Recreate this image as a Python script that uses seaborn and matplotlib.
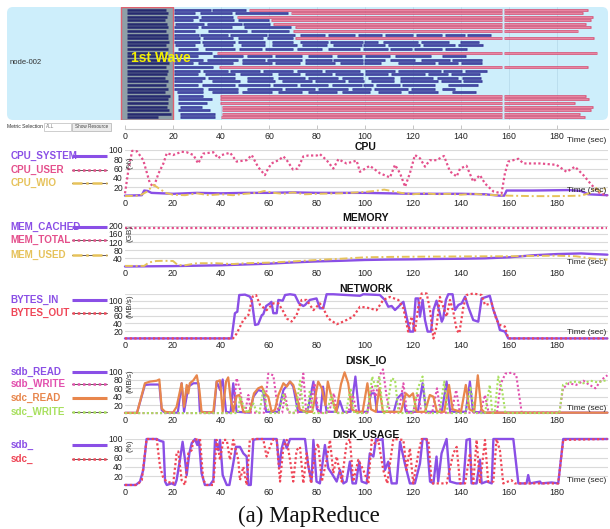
import matplotlib
matplotlib.use("Agg")
import matplotlib.pyplot as plt
import numpy as np
import seaborn as sns
from matplotlib.patches import FancyBboxPatch, Rectangle
from matplotlib.lines import Line2D
from matplotlib.transforms import IdentityTransform

# ---------------------------------------------------------------- data ----
time_ticks = [0, 20, 40, 60, 80, 100, 120, 140, 160, 180]

# task slots of node-002: first wave of map tasks, later map tasks, reduces
first_wave_end = [17, 18, 17.5, 16.5, 17.5, 18, 17, 18, 17.8, 18.5, 17, 18, 16.5,
                  18, 17.5, 18.2, 17, 18, 17.5, 16.8, 18, 17.2, 18, 16.5, 18.75,
                  18, 18, 17.5, 18.5, 19, 13.9]
map_tasks = {
    0: [(20.6, 35.8), (36.4, 50.5)],
    1: [(20.6, 29.2), (31.2, 44.4), (45.8, 68)],
    2: [(20.6, 30.6), (31.7, 45)],
    3: [(20.6, 28.5), (31, 45.5), (47, 60)],
    4: [(20.8, 33), (34, 48.6), (49.3, 60.4)],
    5: [(20.6, 30.6), (31.7, 44.5), (49.5, 69)],
    6: [(20.6, 29.2), (34.5, 51), (52.5, 68.5)],
    7: [(20.6, 30.8), (31.2, 43.1), (43.8, 59), (59.7, 70.8), (72.9, 83.3), (84.7, 95.8),
        (97.2, 106.9), (108.3, 120.1), (121.2, 132.2), (133.3, 141.6), (142.6, 152.3)],
    8: [(20.6, 31.3), (32.6, 45.1), (47.2, 57.6), (59, 70.1)],
    9: [(20.6, 31.3), (32.2, 45.8), (47.2, 58.3), (61.1, 70.1), (72.9, 84.7), (85.4, 99.3),
        (99.7, 105.5), (107.3, 122.2), (123.2, 135), (139.6, 147.6)],
    10: [(20.8, 29.2), (32.6, 45), (48.3, 58.3), (61.1, 71.5), (73.6, 84), (86.8, 98.6),
         (99.3, 108.3), (109.4, 122.9), (124.3, 137.5), (138.6, 149)],
    11: [(22.2, 30.6), (33.3, 45.8), (47.5, 56.9), (58.3, 70.1), (71.5, 81.9), (84.7, 97.9),
         (99.3, 109.7), (110.4, 119.7), (120.5, 132.2), (133.3, 142.3)],
    12: [(20.6, 36.1)],
    13: [(20.6, 30.6), (36.8, 49.3), (50.7, 61.1), (62.5, 73.6), (76.4, 86.1), (88.2, 98.6),
         (100.2, 110.4), (112.5, 127.7), (132.2, 141.9)],
    14: [(20.6, 32.6), (34, 47.2), (48.6, 58.3), (59, 73.6), (75, 86.1), (86.8, 99.3),
         (99.7, 108.3), (110.4, 120.8), (123.3, 135.4), (136.1, 148.9)],
    15: [(20.6, 28.5), (30.6, 45.1), (48.6, 61.1), (62.5, 72.9), (75, 87.5), (89.6, 99.3),
         (99.7, 106.6), (113.6, 129.1), (130.5, 138.9), (140.2, 148.6)],
    16: [(20.6, 36.8)],
    17: [(20.6, 31.3), (32.6, 43.1), (43.8, 56.3), (57.6, 70.1), (71.5, 81.9), (83.3, 97.9),
         (100.2, 112.5), (113.6, 131.6), (132.6, 140.5), (141.6, 150.7)],
    18: [(20.6, 30.6), (33.3, 45.8), (47.9, 61.1), (63.9, 72.9), (75, 86.1), (87.5, 99.3),
         (100.2, 109.4), (110.8, 125), (126.1, 134.7), (135.8, 147.9)],
    19: [(20.6, 33.3), (34.7, 45.8), (50.7, 61.8), (63.9, 75), (76.4, 88.9), (90.3, 99.3),
         (101.4, 112.2), (114.6, 128.2), (130.2, 138.6), (140.5, 148.3)],
    20: [(20.6, 31.9), (36.1, 47.9), (50.7, 62.5), (65.3, 77.8), (79.2, 91.7), (93.1, 99.7),
         (102.5, 112.2), (114.6, 130.5), (131.6, 140), (140.7, 148.6)],
    21: [(20.6, 30.6), (32.2, 45.8), (47.2, 60.4), (61.8, 71.5), (72.9, 84.7), (86.1, 98.6),
         (99.3, 103.4), (104.4, 114.6), (115.5, 129.1), (134.4, 146.9)],
    22: [(20.6, 32.6), (34.7, 47.2), (50.7, 65.3), (66.7, 79.2), (80.6, 93.1), (94.4, 102.7),
         (103.9, 118), (119.1, 129.1), (131.9, 137.7)],
    23: [(21.5, 32.6), (36.1, 47.2), (48.6, 61.1), (63.9, 73.6), (76.4, 88.2), (90.3, 102),
         (105.5, 115.2), (118, 130.5), (136.1, 146.1)],
    24: [(22.2, 32.6)],
    25: [(22.2, 36.1)],
    26: [(22.2, 34)],
    27: [(22.9, 31.9)],
    28: [(22.2, 35.4)],
    29: [(22.9, 37.5)],
    30: [(22.9, 37.5)],
}
reduce_row = [0, 1, 2, 3, 4, 5, 6, 8, 12, 16, 24, 25, 26, 27, 28, 29, 30]
reduce_start = [51.5, 69, 46.5, 61, 61.8, 70.8, 70, 70.8, 38.2, 39.2,
                39.6, 39.6, 39.6, 40.3, 40.3, 40.3, 39.9]
reduce_end = [193, 190.7, 194.8, 194, 192, 194, 188.9, 195.4, 196.8, 193,
              191.9, 193.3, 187.5, 194.8, 194, 189.6, 191.7]
shuffle_end, reduce_phase_start = 157.2, 157.8

# CPU (%)
cpu_system = [(0, 2), (7, 3), (8, 13), (9.5, 12), (11, 8), (20, 6), (30, 8), (40, 7), (50, 8),
              (60, 8), (70, 9), (80, 8), (90, 8), (100, 8), (110, 7), (120, 6), (130, 6),
              (140, 6), (150, 5), (156, 2), (158, 2), (159, 13), (170, 13), (185, 14),
              (190, 12), (193, 5), (201, 3)]
cpu_user = [(0, 7), (1.5, 60), (3, 98), (5, 97), (7.6, 78), (10.4, 28), (12, 21), (14, 50),
            (16, 71), (17.4, 93), (20, 89), (23.6, 96), (25.7, 95), (28.5, 89), (30.5, 71),
            (32.6, 92), (36.8, 95), (38.9, 82), (40.3, 89), (43.8, 94), (46.5, 75), (50.7, 78),
            (52.8, 89), (55.5, 63), (58.3, 46), (59, 54), (61, 71), (64, 78), (66, 86),
            (67.4, 78), (70, 58), (72, 60), (74.3, 86), (76.4, 88), (79.9, 88), (81.2, 91),
            (84, 78), (86.8, 60), (88.9, 80), (92.3, 71), (96.5, 77), (97.9, 53), (102, 66),
            (106.2, 50), (110.4, 41), (112.5, 68), (114.6, 50), (116.7, 21), (118.7, 50),
            (120.8, 89), (122.9, 82), (125, 64), (127, 78), (129.8, 78), (132.9, 87),
            (135.4, 54), (138.2, 43), (139.6, 60), (142.3, 66), (145.1, 32), (147.9, 46),
            (150, 28), (153.5, 11), (156.9, 7), (158.3, 50), (159.7, 75), (163.9, 81),
            (166, 71), (172.9, 71), (179.8, 68), (184, 53), (187.5, 64), (191, 46),
            (194.4, 25), (197.9, 7), (201, 2)]
cpu_wio = [(0, 1), (6, 2), (9, 10), (12, 25), (14, 18), (17, 8), (20, 4), (25, 3), (30, 7),
           (35, 3), (40, 5), (45, 3), (50, 6), (55, 8), (58, 12), (62, 8), (66, 6), (70, 9),
           (75, 5), (80, 6), (90, 7), (100, 10), (104, 12), (108, 15), (111, 12), (115, 8),
           (120, 5), (125, 7), (130, 5), (135, 6), (140, 4), (145, 6), (150, 4), (155, 3),
           (160, 2), (170, 1), (180, 1), (190, 2), (194, 8), (196, 20), (198, 10), (201, 22)]

# MEMORY (GB)
mem_cached = [(0, 0), (10, 1), (20, 2), (30, 4), (40, 6), (50, 10), (60, 14), (70, 20),
              (80, 25), (90, 28), (100, 32), (110, 34), (120, 35), (130, 37), (140, 38),
              (150, 40), (160, 45), (170, 55), (180, 61), (190, 64), (195, 61), (201, 58)]
mem_total = [(0, 189), (201, 189)]
mem_used = [(0, 3), (8, 3), (10, 20), (13, 27), (16, 28), (20, 27), (22, 7), (25, 6),
            (30, 16), (38, 16), (45, 12), (50, 16), (60, 19), (70, 25), (80, 32), (90, 38),
            (100, 45), (110, 47), (120, 48), (135, 49), (150, 50), (160, 50), (170, 52),
            (180, 53), (188, 50), (194, 40), (201, 33)]

# NETWORK (MB/s)
bytes_in = [(0, 0.5), (44.4, 0.5), (45.8, 67), (46.8, 71), (47.6, 115), (50, 116), (52, 111),
            (52.8, 102), (54.2, 36), (55.5, 38), (57, 62), (57.6, 64), (58.8, 86), (60.4, 93),
            (61, 97), (61.8, 67), (63.2, 67), (63.9, 102), (65.7, 100), (66.7, 115),
            (68.75, 117), (70.8, 115), (72.5, 93), (74.3, 86), (75, 88.6), (77, 102),
            (79.8, 106), (81.2, 80), (82.6, 80), (84, 117), (86.8, 117), (97.9, 113),
            (99.3, 117), (106.2, 115), (108.3, 102), (109.7, 84), (111.1, 86), (112.5, 75.5),
            (113.9, 84), (115.3, 93), (116, 97), (117.3, 58), (118.7, 18.5), (120.1, 18.5),
            (121.1, 106), (122.2, 106), (122.9, 58), (124, 102), (125, 49), (126.1, 18.5),
            (127.5, 18.5), (128.5, 75.5), (129.8, 100), (131, 71), (132, 44.6), (132.6, 53.5),
            (133.7, 102), (134.7, 117), (136.5, 117), (137.5, 75.5), (138.9, 88.6),
            (140.3, 93), (141.7, 110.6), (143, 84), (145.1, 49), (147.2, 44.6), (148.6, 106),
            (152, 113), (153.5, 75.5), (155.3, 44.6), (156.2, 22.7), (158.3, 18.5),
            (159.7, 0.5), (201, 0.5)]
bytes_out = [(0, 0.5), (45, 0.5), (46.5, 13), (49.3, 49), (51.4, 62), (53.2, 111),
             (54.6, 115), (56.25, 89), (59, 75), (61.8, 93), (63.9, 93), (66, 71), (67.4, 53),
             (69.4, 45), (71.5, 62), (73.6, 102), (75.7, 102), (78.5, 75), (81.2, 93),
             (82.6, 80), (84.7, 53), (88.2, 38), (91, 45), (95.1, 58), (97.9, 84),
             (100.7, 82), (104.8, 75), (107.6, 102), (110.4, 110), (113.9, 102), (116, 80),
             (118, 18.5), (119.4, 58), (120.8, 18.5), (122.2, 84), (123.6, 119),
             (125.7, 119), (127.1, 75), (128.5, 0.5), (129.8, 31), (131.2, 110),
             (132.6, 84), (134, 58), (135.4, 102), (136.8, 71), (138.2, 22.7), (139.3, 14),
             (141, 84), (142.3, 115), (145.1, 119), (148.6, 115), (150, 88.6), (152.8, 93),
             (154.8, 49), (156.2, 36), (158.3, 31.6), (159.7, 0.5), (201, 0.5)]

# DISK_IO (MB/s)
sdb_read = [(0, 1.5), (5, 1.5), (8.3, 68), (10.4, 69), (14.3, 69), (15.3, 8), (16.7, 2),
            (22, 2), (23.6, 72), (24.6, 4), (26.4, 64), (28.5, 72), (30.6, 72), (31.2, 4),
            (37, 2), (38.2, 76), (39.6, 56), (40.7, 81), (42.1, 4), (44, 2), (45.1, 72),
            (46.5, 4), (52, 2), (53.5, 40), (55.5, 56), (57.6, 52), (58.8, 4), (64, 4),
            (66, 56), (68.75, 76), (70.1, 64), (72.1, 4), (76, 4), (78.5, 76), (80, 10),
            (81.5, 4), (82.5, 64), (84, 4), (88, 4), (89.5, 30), (91, 4), (94, 4), (96, 88),
            (97.5, 4), (101, 4), (102.5, 48), (104, 48), (105, 4), (112, 4), (113.5, 36),
            (115.5, 48), (117, 4), (122, 4), (124, 72), (125.5, 4), (132, 4), (134, 76),
            (135.5, 4), (142, 4), (143.7, 76), (145, 4), (150, 2), (201, 2)]
sdb_write = [(0, 1), (45, 1), (46.5, 84), (48, 56), (49.3, 2), (50, 2), (51.4, 44),
             (52.5, 2), (58, 2), (59.7, 95), (61.8, 91), (63.9, 2), (65.5, 2), (66.7, 48),
             (68, 2), (72, 2), (74.3, 95), (75.5, 2), (77, 2), (79, 72), (80.5, 2), (85, 2),
             (87, 48), (88.5, 2), (93, 2), (95, 44), (96.5, 2), (101, 2), (103, 64),
             (104.5, 40), (106, 90), (107.5, 105), (109, 40), (110.5, 2), (114, 2),
             (116, 72), (117.5, 2), (120, 2), (122, 48), (123.5, 2), (128, 2), (130, 60),
             (131.5, 2), (136, 2), (138, 56), (139.5, 2), (148, 2), (150, 44), (151.5, 2),
             (155, 2), (156.5, 70), (158.5, 95), (161, 97), (163, 92), (165.3, 2), (181, 2),
             (182.5, 60), (185, 72), (188, 68), (191, 78), (193, 70), (196, 60), (198.5, 80),
             (201, 91)]
sdc_read = [(0, 1.5), (5, 1.5), (8.3, 72), (10.4, 76), (13.2, 78), (14.3, 81), (15.3, 12),
            (16.7, 4), (20, 2), (21.5, 16), (23.6, 72), (24.6, 16), (25.7, 68), (26.4, 48),
            (27, 72), (28.5, 79), (29.9, 91), (31, 56), (31.9, 4), (34, 2), (36.8, 4),
            (38.2, 76), (39.6, 79), (40.7, 4), (42.1, 76), (43, 86), (44, 36), (45.1, 4),
            (46.5, 42), (47.6, 44), (49.3, 4), (52, 4), (53.75, 48), (55.5, 60), (57, 64),
            (58.3, 48), (59.7, 40), (61.1, 4), (62.5, 9), (63.9, 44), (66, 72), (67.4, 64),
            (68.75, 76), (70.1, 68), (71.5, 40), (72.9, 9), (75.7, 4), (78, 4), (80.5, 76),
            (82, 60), (83.5, 20), (84.5, 76), (86, 40), (88, 4), (90, 70), (91.5, 98),
            (93, 72), (94.5, 10), (96, 4), (99, 4), (101, 72), (102.5, 10), (104.5, 4),
            (106, 60), (107.5, 4), (115, 4), (117, 48), (118.5, 40), (120, 48), (121.5, 4),
            (125, 4), (127, 44), (128.5, 40), (130, 4), (133, 4), (135, 68), (136.5, 10),
            (140, 4), (142, 68), (143.5, 10), (145.5, 4), (147, 91), (148.5, 10), (150, 2),
            (201, 2)]
sdc_write = [(0, 1), (47, 1), (48, 40), (49.5, 16), (51, 1), (53.5, 24), (55, 1), (56, 1),
             (57.6, 56), (59, 16), (60.5, 1), (64, 1), (66, 48), (67.5, 12), (69, 1), (71, 1),
             (72.9, 78), (74.5, 1), (76, 1), (77, 56), (78.5, 1), (84, 1), (86, 44),
             (87.5, 1), (92, 1), (94, 60), (95.5, 1), (101, 1), (103, 88), (104.5, 60),
             (106, 88), (107.5, 1), (109, 1), (111, 84), (112.5, 80), (114, 1), (120, 1),
             (122, 60), (124, 88), (125.5, 1), (131, 1), (133, 76), (134.5, 1), (142, 1),
             (144, 64), (145.5, 1), (150, 1), (152, 68), (153, 1), (154, 1), (155.5, 88),
             (157, 60), (158.5, 1), (181, 1), (182.5, 68), (185, 74), (188, 76), (191, 72),
             (194, 78), (197, 74), (201, 80)]

# DISK_USAGE (%)
sdb_usage = [(0, 0.6), (4.5, 0.6), (6.25, 8), (7.6, 33), (9, 100), (13.2, 100), (14.6, 96),
             (16, 94), (16.7, 8), (17.4, 0.6), (19.4, 4), (20.8, 0.6), (21.5, 11), (22.9, 55),
             (24, 94), (25, 55), (25.7, 22), (26.8, 69), (27.8, 91), (29.2, 100), (30.1, 87),
             (30.8, 98), (31.9, 26), (33.3, 0.6), (35.4, 0.6), (36.8, 11), (37.5, 98),
             (38.9, 76), (39.6, 98), (40.7, 22), (42.4, 0.6), (43.5, 0.6), (45.1, 47),
             (46.25, 83), (47.9, 83), (49.3, 69), (50.7, 62), (51.4, 0.6), (52.4, 0.6),
             (53.5, 98), (54.9, 100), (63.2, 100), (64.3, 37), (65.3, 80), (66.25, 98),
             (67.4, 80), (68.75, 100), (75, 100), (76.4, 40), (77.7, 8), (78.5, 98),
             (79.8, 8), (81.2, 4), (83.3, 87), (84.7, 37), (86.1, 26), (88.2, 8), (89.6, 33),
             (91, 4), (92.3, 8), (93.7, 51), (94.8, 4), (96.2, 4), (97.6, 51), (98.6, 8),
             (100.7, 4), (102, 69), (103.5, 62), (104.6, 100), (106.2, 98), (107.3, 100),
             (108.3, 33), (109.7, 51), (111.1, 4), (113.2, 4), (114.6, 94), (116.6, 47),
             (118.7, 4), (120.8, 4), (122.9, 47), (124, 100), (125.7, 100), (127.1, 8),
             (128.5, 4), (129.8, 62), (130.5, 8), (131.9, 69), (134, 100), (135.4, 8),
             (138.2, 4), (141, 4), (142.3, 98), (143.7, 100), (144.4, 4), (146.5, 4),
             (147.9, 55), (148.6, 4), (150.7, 8), (152.8, 4), (153.5, 100), (161.8, 100),
             (163.9, 4), (167.3, 4), (168, 22), (168.75, 4), (172.9, 8), (173.5, 4),
             (177.8, 6), (180.5, 4), (182.6, 100), (201, 100)]
sdc_usage = [(0, 0.6), (5, 0.6), (7, 11), (9, 100), (13.2, 100), (14.6, 40), (16, 15),
             (17.4, 8), (20.1, 4), (21.5, 69), (22.2, 73), (23.6, 11), (25, 0.6), (26.4, 69),
             (27.8, 76), (28.5, 98), (31.25, 100), (32.6, 11), (34, 0.6), (36.8, 0.6),
             (38.2, 98), (39.6, 55), (41, 98), (42.4, 98), (43.75, 55), (45.1, 98),
             (47.2, 55), (47.9, 11), (49.3, 40), (50.7, 0.6), (52, 98), (53.5, 100),
             (57.6, 100), (59, 62), (60.4, 83), (61.8, 100), (63.2, 98), (64.6, 8), (66, 83),
             (67.4, 98), (68.75, 55), (70.1, 8), (71.5, 76), (72.9, 83), (74.3, 4),
             (75.7, 69), (77.5, 4), (79.5, 80), (80.5, 90), (82, 8), (84, 54), (85.4, 98),
             (86.8, 26), (88.2, 62), (90.3, 8), (92.3, 90), (93.7, 100), (95.1, 8),
             (97.2, 55), (99.3, 33), (101.4, 4), (102.8, 98), (104.1, 90), (105.5, 98),
             (107.6, 33), (109.3, 4), (110.4, 47), (111.8, 100), (116, 98), (117.3, 33),
             (118.7, 80), (120.1, 4), (122.2, 69), (123.6, 100), (126.4, 98), (127.8, 4),
             (134, 4), (136.8, 69), (138.2, 83), (139.6, 4), (141.7, 4), (143.7, 69),
             (145.1, 4), (146.5, 98), (147.9, 4), (150, 98), (151.3, 8), (153.5, 8),
             (154.8, 100), (156.2, 76), (157.6, 4), (161, 11), (162.4, 4), (180.5, 4),
             (182.6, 98), (201, 100)]

# --------------------------------------------------------------- styles ----
PURPLE = "#8a4fe6"
PINK = "#e4508c"
YELLOW = "#e6c25a"
RED = "#ef4657"
MAGENTA = "#e24fae"
ORANGE = "#e8864c"
GREEN = "#a8e05e"
SOLID = "-"
DOT = (0, (1.0, 1.1))
DASHDOT = (0, (4, 1.5, 1, 1.5))

W, H = 610, 529
X0, PX_PER_S, X1 = 125, 2.4, 608
TMAX = (X1 - X0) / PX_PER_S

sns.set_theme(style="white")
plt.rcParams["font.family"] = ["Liberation Sans", "DejaVu Sans"]

fig = plt.figure(figsize=(W / 100, H / 100), dpi=100)
PIX = IdentityTransform()


def px_axes(left, top, right, bottom):
    return fig.add_axes([left / W, 1 - bottom / H, (right - left) / W, (bottom - top) / H])


def ftext(x, y, s, **kw):
    kw.setdefault("va", "center")
    kw.setdefault("ha", "left")
    return fig.text(x / W, 1 - y / H, s, **kw)


def pline(x0, x1, y, **kw):
    fig.add_artist(Line2D([x0, x1], [H - y, H - y], transform=PIX, **kw))


# ------------------------------------------------------- task timeline ----
fig.add_artist(FancyBboxPatch((7, H - 120), 601, 113, boxstyle="round,pad=0,rounding_size=6",
                              transform=PIX, fc="#cdeefb", ec="none", zorder=0))
ax_top = px_axes(7, 7, 608, 120)
ax_top.set_xlim((7 - X0) / PX_PER_S, TMAX)
row0_px, row_step = 9.5, 3.6
ax_top.set_ylim((120 - row0_px) / row_step, (7 - row0_px) / row_step)
ax_top.axis("off")
ax_top.patch.set_alpha(0)
for t in time_ticks[1:]:
    ax_top.axvline(t, color="#b8dcec", lw=0.6, zorder=0.5)
ymin, ymax = ax_top.get_ylim()
ax_top.add_patch(Rectangle((-1.67, ymax), 21.67, ymin - ymax, fc="#8e9fa7", ec="#e0606e",
                           lw=1.0, zorder=1))
BAR_LW = 1.85
for r, fw in enumerate(first_wave_end):
    ax_top.hlines(r, 0.7, fw, color="#262a70", lw=BAR_LW, zorder=2)
for r, tasks in map_tasks.items():
    for s, e in tasks:
        ax_top.hlines(r, s, e, color="#2e3192", lw=BAR_LW, zorder=2)
        ax_top.hlines(r, s + 0.3, e - 0.3, color="#5a5db5", lw=0.4, zorder=2.1)
for r, s, e in zip(reduce_row, reduce_start, reduce_end):
    for a, b in ((s, shuffle_end), (reduce_phase_start, e)):
        ax_top.hlines(r, a, b, color="#d8496f", lw=BAR_LW, zorder=2)
        ax_top.hlines(r, a + 0.3, b - 0.3, color="#f3a9bf", lw=0.45, zorder=2.1)
ax_top.text(2.5, (58 - row0_px) / row_step, "1st Wave", color="#f4f000", fontsize=10,
            fontweight="bold", va="center", ha="left", zorder=5)
ftext(10, 63, "node-002", fontsize=5.5, color="#333333")

# controls under the timeline
ftext(7, 126.5, "Metric Selection", fontsize=3.6, color="#333333")
fig.add_artist(Rectangle((44, H - 130.5), 27, 8, transform=PIX, fc="white", ec="#bbbbbb", lw=0.5))
ftext(46, 126.5, "ALL", fontsize=3.3, color="#777777")
fig.add_artist(Rectangle((72, H - 130.5), 39, 8, transform=PIX, fc="#ececec", ec="#b0b0b0", lw=0.5))
ftext(91.5, 126.5, "Show Resource", fontsize=3.3, color="#444444", ha="center")

# time axis under the timeline
ax_tick = px_axes(X0, 124, X1, 129)
ax_tick.set_xlim(0, TMAX)
ax_tick.set_yticks([])
for side in ("top", "left", "right"):
    ax_tick.spines[side].set_visible(False)
ax_tick.spines["bottom"].set_color("#cccccc")
ax_tick.spines["bottom"].set_linewidth(0.8)
ax_tick.patch.set_alpha(0)
ax_tick.set_xticks(time_ticks)
ax_tick.tick_params(axis="x", direction="in", length=3, width=0.6, color="#bbbbbb",
                    labelsize=6.3, pad=2.5, labelcolor="#222222", bottom=True)
ftext(567, 141, "Time (sec)", fontsize=6, color="#222222")

# -------------------------------------------------------- metric panels ----
panels = [
    dict(title="CPU", zero=196.6, ppu=0.467, vmax=100, ticks=[20, 40, 60, 80, 100],
         unit="(%)", unit_y=163, title_y=146.5, time_y=190,
         series=[("CPU_SYSTEM", cpu_system, PURPLE, SOLID, 1.7, 155.5),
                 ("CPU_USER", cpu_user, PINK, DOT, 1.6, 169.5),
                 ("CPU_WIO", cpu_wio, YELLOW, DASHDOT, 1.4, 182.7)]),
    dict(title="MEMORY", zero=266.5, ppu=0.204, vmax=200, ticks=[40, 80, 120, 160, 200],
         unit="(GB)", unit_y=233, title_y=218, time_y=263,
         series=[("MEM_CACHED", mem_cached, PURPLE, SOLID, 1.7, 226.5),
                 ("MEM_TOTAL", mem_total, PINK, DOT, 1.6, 240),
                 ("MEM_USED", mem_used, YELLOW, DASHDOT, 1.4, 255)]),
    dict(title="NETWORK", zero=338.6, ppu=0.379, vmax=117, ticks=[20, 40, 60, 80, 100],
         unit="(MB/s)", unit_y=306, title_y=289, time_y=332,
         series=[("BYTES_IN", bytes_in, PURPLE, SOLID, 1.7, 299.5),
                 ("BYTES_OUT", bytes_out, RED, DOT, 1.6, 312.7)]),
    dict(title="DISK_IO", zero=413.5, ppu=0.42, vmax=100, ticks=[20, 40, 60, 80, 100],
         unit="(MB/s)", unit_y=381, title_y=361, time_y=409,
         series=[("sdb_READ", sdb_read, PURPLE, SOLID, 1.6, 371.7),
                 ("sdb_WRITE", sdb_write, MAGENTA, DOT, 1.5, 383.5),
                 ("sdc_READ", sdc_read, ORANGE, SOLID, 1.6, 398.3),
                 ("sdc_WRITE", sdc_write, GREEN, DOT, 1.5, 411.7)]),
    dict(title="DISK_USAGE", zero=485.25, ppu=0.4625, vmax=100, ticks=[20, 40, 60, 80, 100],
         unit="(%)", unit_y=446, title_y=435, time_y=480,
         series=[("sdb_", sdb_usage, PURPLE, SOLID, 1.7, 445),
                 ("sdc_", sdc_usage, RED, DOT, 1.6, 459.3)]),
]

for p in panels:
    top = p["zero"] - p["ppu"] * p["vmax"]
    ax = px_axes(X0, top, X1, p["zero"])
    ax.patch.set_alpha(0)
    for s in ax.spines.values():
        s.set_visible(False)
    grid = list(p["ticks"])
    if p["vmax"] not in grid:
        grid.append(p["vmax"])
    for g in grid:
        ax.axhline(g, color="#dadada", lw=0.8, zorder=0)
    for name, pts, color, ls, lw, leg_y in p["series"]:
        t = np.array([q[0] for q in pts], dtype=float)
        v = np.array([q[1] for q in pts], dtype=float)
        sns.lineplot(x=t, y=v, ax=ax, color=color, linestyle=ls, lw=lw, estimator=None,
                     sort=False, clip_on=False, zorder=3)
        # legend entry on the left
        ftext(10.5, leg_y, name, fontsize=7.1, color=color, fontweight="bold")
        if ls != SOLID:
            pline(72, 107, leg_y, color="#4a3a3a", lw=0.6, zorder=4)
        pline(72, 107, leg_y, color=color, lw=2.2 if ls == SOLID else 1.8,
              linestyle=ls, solid_capstyle="butt", zorder=5)
    ax.set_xlim(0, TMAX)
    ax.set_ylim(0, p["vmax"])
    ax.set_xlabel("")
    ax.set_ylabel("")
    ax.set_yticks(p["ticks"])
    ax.set_xticks(time_ticks)
    ax.tick_params(axis="y", length=0, pad=1.5, labelsize=6.2, labelcolor="#222222")
    ax.tick_params(axis="x", length=0, pad=1.8, labelsize=6.5, labelcolor="#222222")
    ftext(129.5, p["unit_y"], p["unit"], fontsize=5.8, color="#333333", rotation=90,
          ha="center")
    ftext(366, p["title_y"], p["title"], fontsize=7.5, fontweight="bold", color="#111111",
          ha="center", zorder=10)
    ftext(567, p["time_y"], "Time (sec)", fontsize=6, color="#222222", zorder=10)

ftext(309, 516, "(a) MapReduce", fontsize=16.5, family="Liberation Serif", color="#111111",
      ha="center")

fig.savefig("out.png", dpi=100, facecolor="white")
